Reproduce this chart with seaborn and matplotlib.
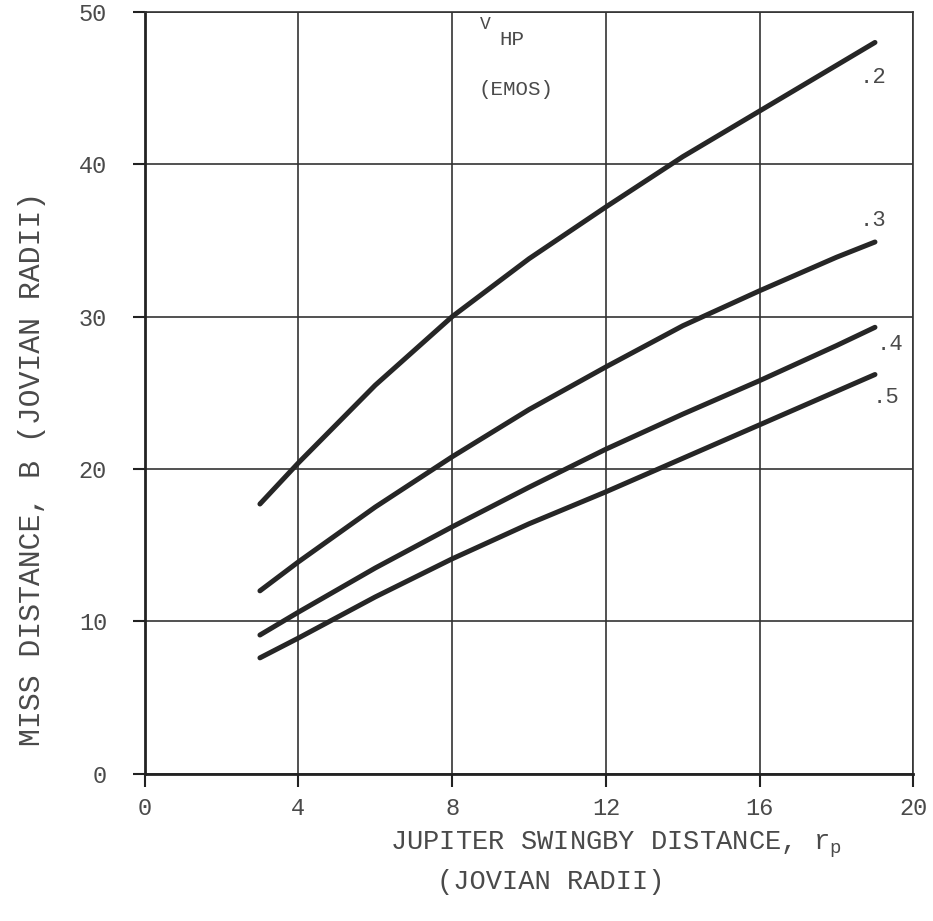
import numpy as np
import pandas as pd
import matplotlib
matplotlib.use("Agg")
import matplotlib.pyplot as plt
import seaborn as sns

# ---- data ----
rp = [3, 4, 6, 8, 10, 12, 14, 16, 18, 19]
b_v2 = [17.7, 20.4, 25.5, 30.0, 33.8, 37.2, 40.5, 43.5, 46.5, 48.0]
b_v3 = [12.0, 13.9, 17.5, 20.8, 23.9, 26.7, 29.4, 31.7, 33.9, 34.9]
b_v4 = [9.1, 10.6, 13.5, 16.2, 18.8, 21.3, 23.6, 25.8, 28.1, 29.3]
b_v5 = [7.6, 8.9, 11.6, 14.1, 16.4, 18.5, 20.7, 22.9, 25.1, 26.2]
vhp_labels = [".2", ".3", ".4", ".5"]
x_ticks = [0, 4, 8, 12, 16, 20]
y_ticks = [0, 10, 20, 30, 40, 50]

df = pd.concat([
    pd.DataFrame({"rp": rp, "B": vals, "VHP": lab})
    for vals, lab in zip([b_v2, b_v3, b_v4, b_v5], vhp_labels)
])

sns.set_theme(style="white")
plt.rcParams["font.family"] = ["Liberation Mono", "DejaVu Sans Mono"]
plt.rcParams["mathtext.fontset"] = "custom"
plt.rcParams["mathtext.rm"] = "Liberation Mono"

text_c = "#4a4a4a"
line_c = "#262626"

fig = plt.figure(figsize=(9.33, 9.21), dpi=100)
ax = fig.add_axes([0.155, 0.160, 0.824, 0.827])

sns.lineplot(data=df, x="rp", y="B", hue="VHP", palette=[line_c] * 4,
             linewidth=3.6, legend=False, ax=ax, solid_capstyle="round")

ax.set_xlim(0, 20)
ax.set_ylim(0, 50)
ax.set_xticks(x_ticks)
ax.set_yticks(y_ticks)
ax.set_xticklabels([str(t) for t in x_ticks])
ax.set_yticklabels([str(t) for t in y_ticks])
ax.grid(True, color="#333333", linewidth=1.2)
for s in ["top", "right"]:
    ax.spines[s].set_color("#333333")
    ax.spines[s].set_linewidth(1.2)
for s in ["left", "bottom"]:
    ax.spines[s].set_color("#222222")
    ax.spines[s].set_linewidth(2.0)
ax.tick_params(axis="both", direction="out", length=9, width=1.5,
               color="#222222", labelsize=17, labelcolor=text_c,
               left=True, bottom=True)
ax.tick_params(axis="y", pad=18)
ax.tick_params(axis="x", pad=8)

ax.set_xlabel("")
ax.set_ylabel("MISS DISTANCE, B (JOVIAN RADII)", fontsize=21.5, color=text_c)
ax.yaxis.set_label_coords(-0.128, 0.40)

fig.text(390 / 933, 1 - 845 / 921, r"JUPITER SWINGBY DISTANCE, r$_\mathregular{p}$",
         fontsize=19.5, color=text_c, ha="left", va="center")
fig.text(437 / 933, 1 - 882 / 921, "(JOVIAN RADII)",
         fontsize=19.5, color=text_c, ha="left", va="center")

# annotations
ax.text(8.85, 49.2, "V", fontsize=13, color=text_c, ha="center", va="center")
ax.text(9.55, 48.2, "HP", fontsize=15, color=text_c, ha="center", va="center")
ax.text(9.65, 44.9, "(EMOS)", fontsize=15, color=text_c, ha="center", va="center")

label_pos = [(18.6, 45.7), (18.6, 36.3), (19.05, 28.2), (18.95, 24.7)]
for lab, (lx, ly) in zip(vhp_labels, label_pos):
    ax.text(lx, ly, lab, fontsize=16, color=text_c, ha="left", va="center")

fig.savefig("out.png", dpi=100)
